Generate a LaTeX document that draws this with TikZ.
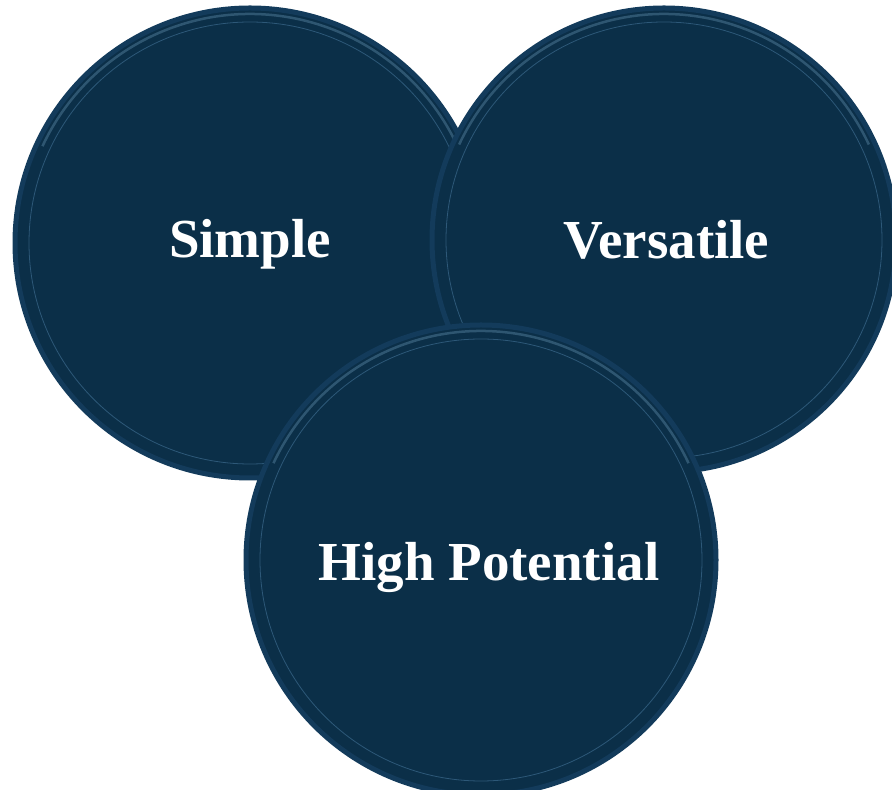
\documentclass[tikz,border=0pt]{standalone}
\usepackage{fontspec}
\setmainfont{Liberation Serif}
\usetikzlibrary{positioning}

\definecolor{navy}{HTML}{0B2F48}
\definecolor{rim}{HTML}{133B5B}
\definecolor{rimlight}{HTML}{5A86A4}
\definecolor{ringline}{HTML}{2D5878}

\tikzset{
  disc/.style={circle, fill=navy, draw=rim, line width=5pt, minimum size=#1,
    inner sep=0pt, text=white, font=\fontsize{55}{62}\selectfont\bfseries,
    path picture={
      \draw[rimlight, line width=2.5pt, opacity=0.45]
        ([shift={(25:{#1/2-6pt})}]path picture bounding box.center)
        arc (25:155:{#1/2-6pt});
      \draw[ringline, line width=0.8pt]
        (path picture bounding box.center) circle ({#1/2-14pt});
    }}
}

\begin{document}
\begin{tikzpicture}[x=1pt,y=1pt]
\useasboundingbox (0,0) rectangle (892,790);

\node[disc=470pt] (simple) at (250,547) {\raisebox{-15pt}[0pt][0pt]{Simple}};
\node[disc=464pt] (versatile) at (664,550) {\hspace{5pt}\raisebox{-19pt}[0pt][0pt]{Versatile}};
\node[disc=470pt] (potential) at (481,230) {\hspace{16pt}\raisebox{-21pt}[0pt][0pt]{High Potential}};
\end{tikzpicture}
\end{document}
